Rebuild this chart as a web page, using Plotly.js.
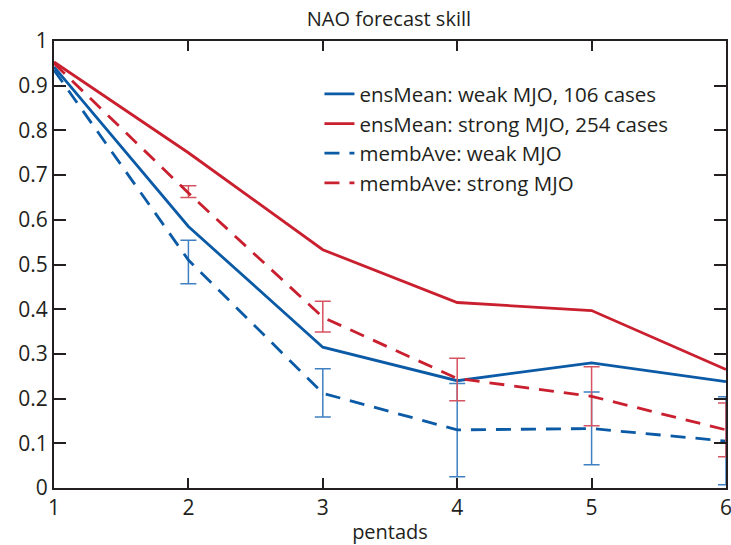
<!DOCTYPE html>
<html>
<head>
<meta charset="utf-8">
<script src="https://cdn.plot.ly/plotly-3.0.1.min.js"></script>
<style>html,body{margin:0;padding:0;background:#fff;}#chart{width:731px;height:545px;}</style>
</head>
<body>
<div id="chart"></div>
<script>
const pentads = [1, 2, 3, 4, 5, 6];
const ensMeanWeak = [0.942, 0.585, 0.315, 0.240, 0.280, 0.238];
const ensMeanStrong = [0.953, 0.750, 0.533, 0.415, 0.397, 0.265];
const membAveWeak = [0.935, 0.510, 0.212, 0.130, 0.133, 0.105];
const membAveStrong = [0.950, 0.660, 0.382, 0.245, 0.205, 0.130];
const weakLow = [null, 0.457, 0.159, 0.025, 0.052, 0.007];
const weakHigh = [null, 0.554, 0.267, 0.234, 0.215, 0.204];
const strongLow = [null, 0.650, 0.349, 0.195, 0.139, 0.070];
const strongHigh = [null, 0.676, 0.418, 0.290, 0.271, 0.190];
const seriesNames = ['ensMean: weak MJO, 106 cases', 'ensMean: strong MJO, 254 cases', 'membAve: weak MJO', 'membAve: strong MJO'];

const BLUE = '#0b5aa6', RED = '#c91f2e', BLUE_E = '#3f80c2', RED_E = '#d65361';
const plus = (hi, y) => hi.map((h, i) => h == null ? NaN : h - y[i]);
const minus = (lo, y) => lo.map((l, i) => l == null ? NaN : y[i] - l);

const traces = [
  {x: pentads, y: ensMeanWeak, name: seriesNames[0], mode: 'lines', line: {color: BLUE, width: 2.8}},
  {x: pentads, y: ensMeanStrong, name: seriesNames[1], mode: 'lines', line: {color: RED, width: 2.8}},
  {x: pentads, y: membAveWeak, name: seriesNames[2], mode: 'lines', line: {color: BLUE, width: 2.8, dash: '15px,10px'},
   error_y: {type: 'data', symmetric: false, array: plus(weakHigh, membAveWeak), arrayminus: minus(weakLow, membAveWeak), color: BLUE_E, thickness: 1.5, width: 8}},
  {x: pentads, y: membAveStrong, name: seriesNames[3], mode: 'lines', line: {color: RED, width: 2.8, dash: '15px,10px'},
   error_y: {type: 'data', symmetric: false, array: plus(strongHigh, membAveStrong), arrayminus: minus(strongLow, membAveStrong), color: RED_E, thickness: 1.5, width: 8}}
];

const FONT = 'Open Sans, sans-serif';
const layout = {
  width: 731, height: 545,
  margin: {l: 54, r: 5, t: 41, b: 57},
  paper_bgcolor: '#fff', plot_bgcolor: '#fff',
  font: {family: FONT, size: 20, color: '#231f20'},
  title: {text: 'NAO forecast skill', x: 0.532, xanchor: 'center', yref: 'container', y: 0.966, yanchor: 'middle', font: {family: FONT, size: 20, color: '#231f20'}},
  xaxis: {range: [1, 6], dtick: 1, tick0: 1, showgrid: false, zeroline: false, showline: true, linecolor: '#231f20', linewidth: 2,
          mirror: 'ticks', ticks: 'inside', ticklen: 10, tickwidth: 2, tickcolor: '#231f20', ticklabeloverflow: 'allow',
          title: {text: 'pentads', standoff: 5, font: {family: FONT, size: 20}}, tickfont: {size: 21}},
  yaxis: {range: [0, 1], dtick: 0.1, tick0: 0, showgrid: false, zeroline: false, showline: true, linecolor: '#231f20', linewidth: 2,
          mirror: 'ticks', ticks: 'inside', ticklen: 12, tickwidth: 2, tickcolor: '#231f20', tickfont: {size: 21}, ticklabeloverflow: 'allow'},
  showlegend: true,
  legend: {x: 0.395, y: 0.926, xanchor: 'left', yanchor: 'top', bgcolor: 'rgba(0,0,0,0)', borderwidth: 0,
           font: {family: FONT, size: 20.5, color: '#231f20'}, tracegroupgap: 0}
};
Plotly.newPlot('chart', traces, layout, {displayModeBar: false, staticPlot: true});
</script>
</body>
</html>
